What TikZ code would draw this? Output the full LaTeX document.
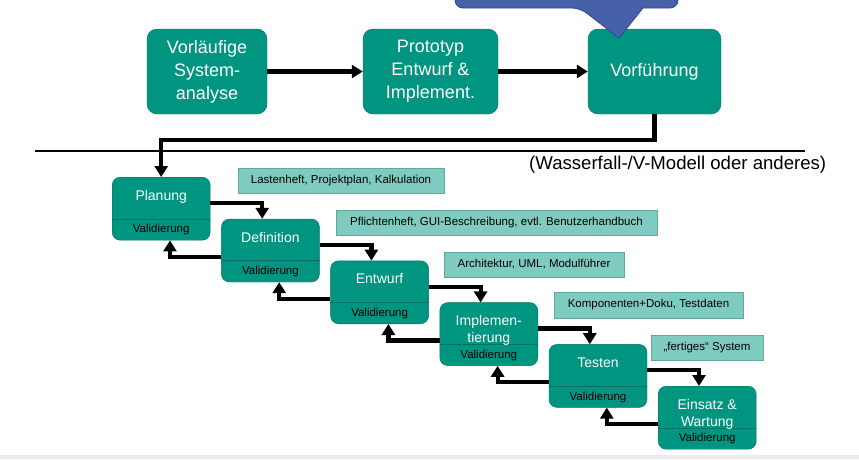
\documentclass[tikz,border=0pt]{standalone}
\usepackage{fontspec}
\setmainfont{Liberation Sans}
\usetikzlibrary{arrows.meta}

\definecolor{boxgreen}{HTML}{009580}
\definecolor{boxedge}{HTML}{00705F}
\definecolor{notefill}{HTML}{80CBBF}
\definecolor{noteedge}{HTML}{62A99D}
\definecolor{callblue}{HTML}{4761A8}
\definecolor{calledge}{HTML}{2F4889}

\tikzset{
    topbox/.style={draw=boxedge, fill=boxgreen, rounded corners=10pt, text=white, align=center,
        font=\fontsize{18}{23}\selectfont, minimum height=85pt, inner sep=0pt},
    phase/.style={draw=boxedge, fill=boxgreen, rounded corners=8pt, minimum width=98pt,
        minimum height=63pt, inner sep=0pt},
    phasetitle/.style={text=white, align=center, font=\fontsize{14}{17}\selectfont, inner sep=0pt},
    valtext/.style={font=\fontsize{11.5}{13}\selectfont, inner sep=0pt},
    note/.style={draw=noteedge, fill=notefill, font=\fontsize{11.5}{13}\selectfont,
        minimum height=25pt, inner sep=0pt},
    flow/.style={line width=4.2pt, -{Triangle[width=13pt,length=11pt]}},
}

\begin{document}
\begin{tikzpicture}[x=1pt, y=-1pt]
    \useasboundingbox (0,0) rectangle (859,459);
    \clip (0,0) rectangle (859,459);
    \fill[black!8] (0,455) rectangle (859,459);

    % prototyping
    \node[topbox, minimum width=120pt] (vorl) at (207,71.5) {Vorläufige\\System-\\analyse};
    \node[topbox, minimum width=135pt] (prot) at (430.5,71.5) {Prototyp\\Entwurf \&\\Implement.};
    \node[topbox, minimum width=133pt] (vorf) at (654.5,71.5) {Vorführung};
    \draw[flow] (vorl) -- (prot);
    \draw[flow] (prot) -- (vorf);

    \filldraw[fill=callblue, draw=calledge, line width=0.8pt] (455,-30) [rounded corners=8pt]-- (455,8) -- (580,8)
        [sharp corners]-- (619,38) -- (643,8) [rounded corners=8pt]-- (678,8) -- (678,-30);

    \draw[line width=1.2pt] (35,151) -- (805,151);
    \node[anchor=base west, inner sep=0pt, font=\fontsize{18.6}{22}\selectfont] (modelnote) at (529,169)
        {(Wasserfall-/V-Modell oder anderes)};

    % waterfall
    \foreach \name/\title/\i in {plan/Planung/0, defi/Definition/1, entw/Entwurf/2,
        impl/{Implemen-\\tierung}/3, test/Testen/4, eins/{Einsatz \&\\Wartung}/5} {
        \node[phase, anchor=north west] (\name) at ({112+109.2*\i},{177+41.8*\i}) {};
        \draw[boxedge, line width=0.8pt] ([yshift=-42pt]\name.north west) -- ([yshift=-42pt]\name.north east);
        \node[phasetitle, anchor=north] at ([yshift=-13pt]\name.north) {\title};
        \node[valtext] at ([yshift=-53pt]\name.north) {Validierung};
    }

    \draw[flow] (vorf.south) -- ++(0,26) -| (plan.north);
    \foreach \a/\b in {plan/defi, defi/entw, entw/impl, impl/test, test/eins} {
        \draw[flow] ([yshift=-26pt]\a.north east) -| ([xshift=41pt]\b.north west);
        \draw[flow] ([yshift=-38pt]\b.north west) -| ([xshift=58pt]\a.south west);
    }

    \node[note, minimum width=206pt] (last) at (341,180.5) {Lastenheft, Projektplan, Kalkulation};
    \node[note, minimum width=321pt] (pflicht) at (496.5,222.5) {Pflichtenheft, GUI-Beschreibung, evtl. Benutzerhandbuch};
    \node[note, minimum width=180pt] (archi) at (534,264.5) {Architektur, UML, Modulführer};
    \node[note, minimum width=189pt, minimum height=26pt] (kompo) at (648.5,305) {Komponenten+Doku, Testdaten};
    \node[note, minimum width=112pt] (fert) at (707,347.5) {„fertiges“ System};
\end{tikzpicture}
\end{document}
